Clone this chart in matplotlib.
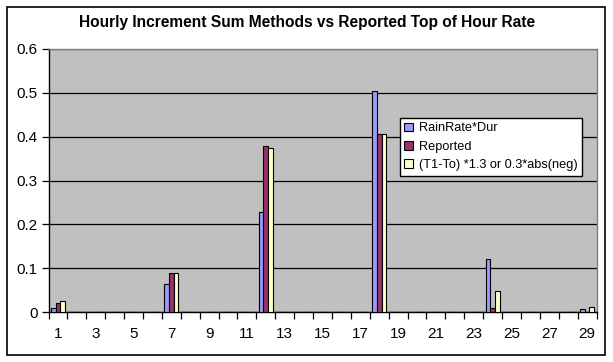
import matplotlib
matplotlib.use("Agg")
import matplotlib.pyplot as plt
import numpy as np
from matplotlib.patches import Rectangle

plt.rcParams['font.family'] = ['Liberation Sans', 'DejaVu Sans']

hours = list(range(1, 30))
rainrate_dur = {1: 0.008, 7: 0.065, 12: 0.227, 18: 0.504, 24: 0.122, 29: 0.006}
reported = {1: 0.020, 7: 0.088, 12: 0.379, 18: 0.406, 24: 0.008, 29: 0.0}
t1_to = {1: 0.025, 7: 0.090, 12: 0.374, 18: 0.406, 24: 0.048, 29: 0.011}

series_names = ["RainRate*Dur", "Reported", "(T1-To) *1.3 or 0.3*abs(neg)"]
colors = ["#9999FF", "#993366", "#FFFFCC"]
yticks = [0, 0.1, 0.2, 0.3, 0.4, 0.5, 0.6]
xlabels = list(range(1, 30, 2))

series = [[d.get(h, 0.0) for h in hours] for d in (rainrate_dur, reported, t1_to)]

W, H = 613, 362
fig = plt.figure(figsize=(W / 100, H / 100), dpi=100)
fig.patch.set_facecolor("white")
fig.add_artist(Rectangle((6.5 / W, 7.5 / H), 598.5 / W, 348 / H, transform=fig.transFigure,
                         fill=False, edgecolor="black", linewidth=1.2))

ax = fig.add_axes([48.5 / W, (H - 312) / H, 548 / W, 263 / H])
ax.set_facecolor("#C0C0C0")

bw = 0.245
x = np.array(hours, dtype=float)
for i, (vals, c, name) in enumerate(zip(series, colors, series_names)):
    ax.bar(x + (i - 1) * bw, vals, width=bw, color=c, edgecolor="black", linewidth=0.8,
           label=name, zorder=3)

ax.set_xlim(0.5, 29.5)
ax.set_ylim(0, 0.6)
ax.set_yticks(yticks)
ax.set_yticklabels(["0", "0.1", "0.2", "0.3", "0.4", "0.5", "0.6"])
ax.yaxis.grid(True, color="black", linewidth=0.9, zorder=1)
ax.set_axisbelow(True)

ax.set_xticks(xlabels)
ax.set_xticklabels([str(v) for v in xlabels])
ax.set_xticks(np.arange(0.5, 30.0, 1.0), minor=True)
ax.tick_params(axis="x", which="major", length=0, pad=11, labelsize=11)
ax.tick_params(axis="x", which="minor", length=5, width=0.9, color="black")
ax.tick_params(axis="y", which="major", length=5, width=0.9, pad=3, labelsize=11)

for s in ["top", "right"]:
    ax.spines[s].set_color("#808080")
    ax.spines[s].set_linewidth(1.0)
for s in ["left", "bottom"]:
    ax.spines[s].set_color("black")
    ax.spines[s].set_linewidth(1.0)

fig.text(307 / W, 1 - 23 / H, "Hourly Increment Sum Methods vs Reported Top of Hour Rate",
         ha="center", va="center", fontsize=11.2, fontweight="bold")

leg = ax.legend(loc="upper left", bbox_to_anchor=((400 - 48.5) / 548, 1 - (118 - 49) / 263),
                fontsize=9.2, frameon=True, fancybox=False, edgecolor="black",
                framealpha=1, borderpad=0.35, labelspacing=0.5, handlelength=0.7,
                handleheight=0.7, handletextpad=0.4, borderaxespad=0)
leg.get_frame().set_linewidth(1.0)

fig.savefig("out.png", dpi=100)
